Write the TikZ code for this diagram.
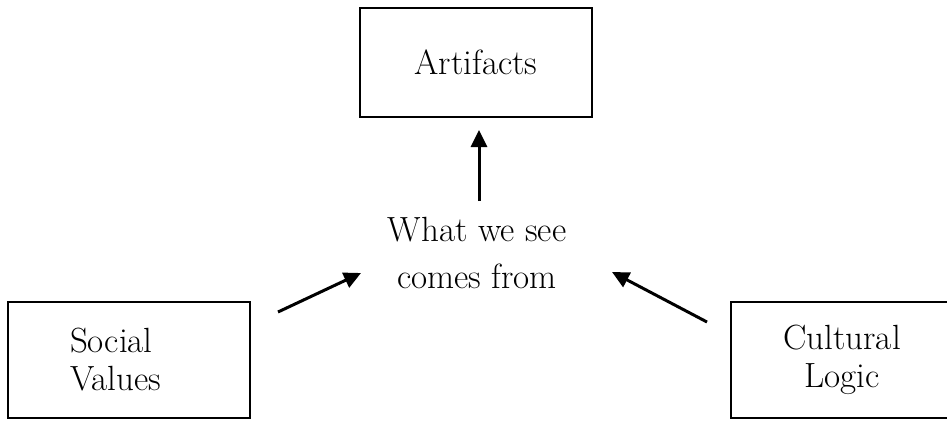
\documentclass[tikz,border=0pt]{standalone}
\usetikzlibrary{arrows.meta}
\tikzset{
  box/.style={draw=black, line width=2pt, inner sep=0pt, font=\fontsize{35}{38}\selectfont},
  openbox/.style={inner sep=0pt, font=\fontsize{35}{38}\selectfont},
  boxline/.style={draw=black, line width=2pt},
  midtext/.style={inner sep=0pt, align=center, font=\fontsize{35}{47}\selectfont},
  arr/.style={line width=3pt, -{Triangle[length=17pt,width=16pt]}}
}
\begin{document}
\begin{tikzpicture}[x=1pt,y=-1pt]
\useasboundingbox (0,0) rectangle (947,423);
\clip (0,0) rectangle (947,423);
\node[box, minimum width=232pt, minimum height=109pt] (art) at (476,62.5) {Artifacts};
\node[box, minimum width=242pt, minimum height=116pt, text width=118pt, align=left] (sv) at (129,360) {Social\\Values};
\node[openbox, text width=222pt, minimum height=116pt, align=center] (cl) at (842,360) {Cultural\\Logic};
\draw[boxline] ([xshift=40pt]cl.north east) -- (cl.north west) -- (cl.south west) -- ([xshift=40pt]cl.south east);
\node[midtext] (what) at (477,253) {What we see\\comes from};
\coordinate (vtop) at (479,130);
\coordinate (vbot) at (479,201);
\coordinate (ls) at (278,312);
\coordinate (le) at (361,273);
\coordinate (rs) at (707,322);
\coordinate (re) at (612,272);
\draw[arr] (vbot) -- (vtop);
\draw[arr] (ls) -- (le);
\draw[arr] (rs) -- (re);
\end{tikzpicture}
\end{document}
